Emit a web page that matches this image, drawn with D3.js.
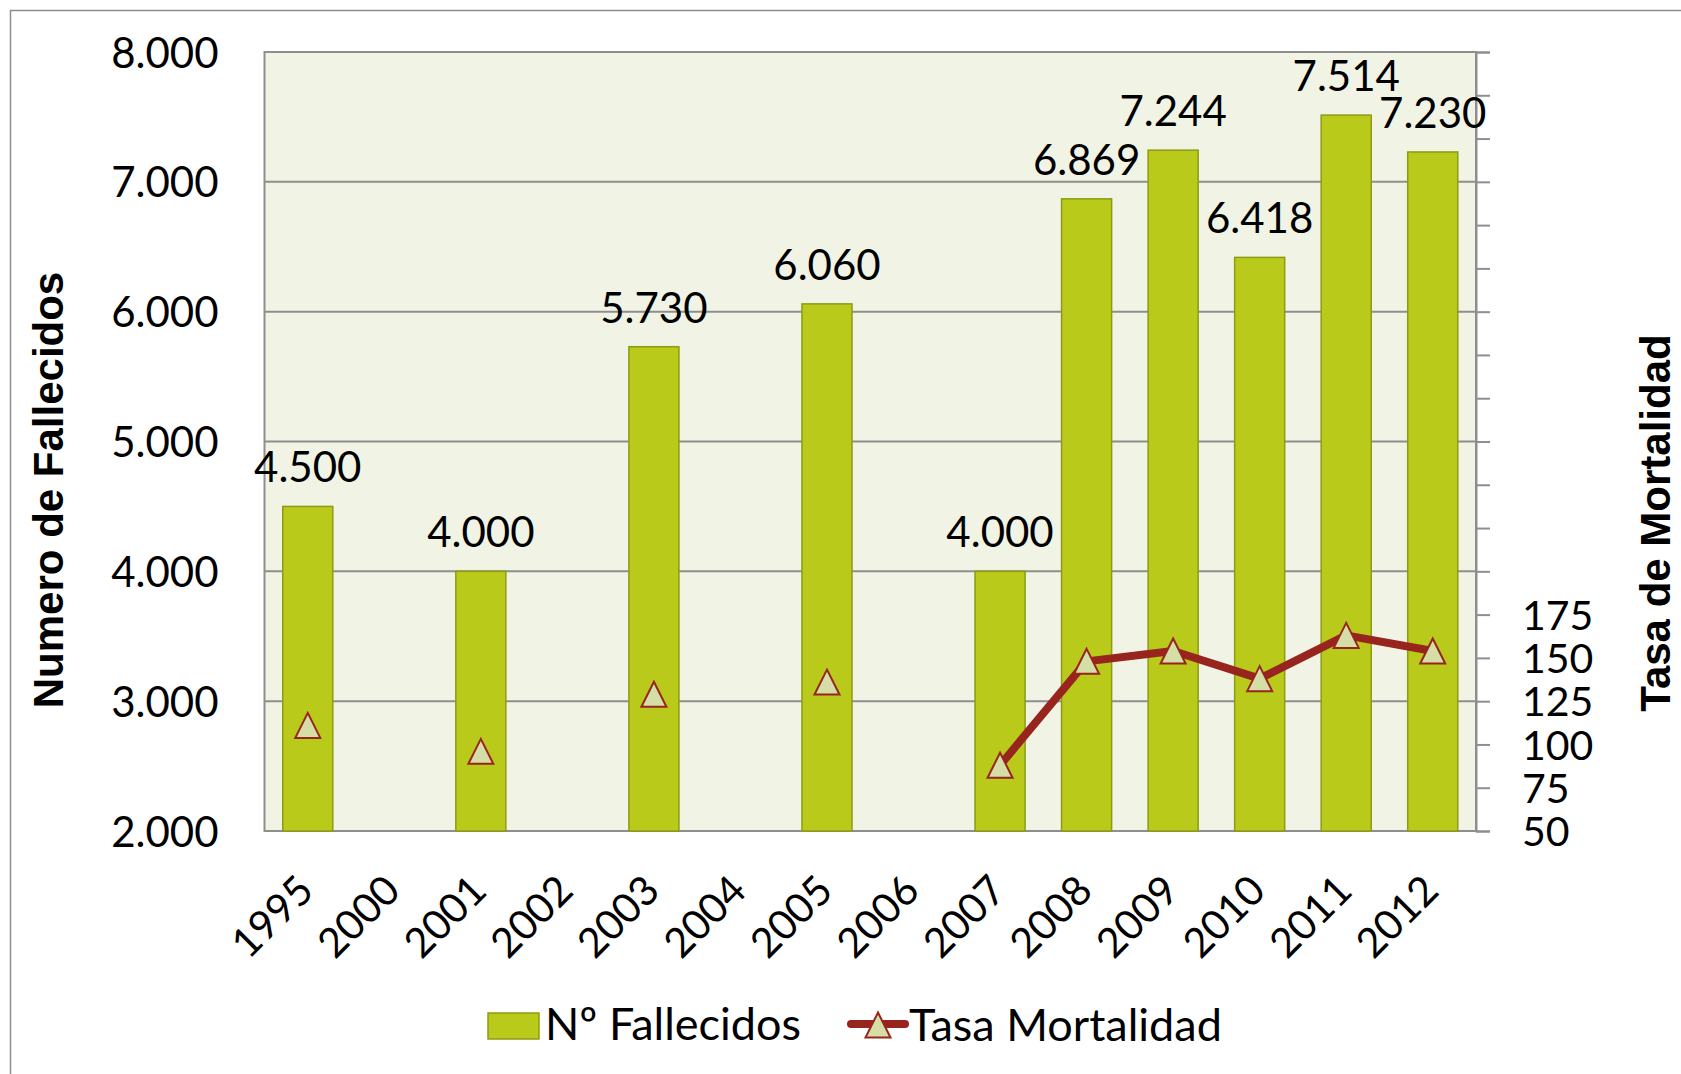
<!DOCTYPE html>
<html>
<head>
<meta charset="utf-8">
<script src="https://cdn.jsdelivr.net/npm/d3@7"></script>
<style>
  html, body { margin: 0; padding: 0; background: #ffffff; }
  svg { display: block; }
</style>
</head>
<body>
<svg id="chart" width="1681" height="1074"></svg>
<script>
// ---- data ----
const categories = ["1995","2000","2001","2002","2003","2004","2005","2006","2007","2008","2009","2010","2011","2012"];
const fallecidos = [4500, null, 4000, null, 5730, null, 6060, null, 4000, 6869, 7244, 6418, 7514, 7230];
const tasaMortalidad = [111, null, 96, null, 129, null, 136, null, 88, 148, 154, 138, 163, 154];
const leftTickValues = [2000, 3000, 4000, 5000, 6000, 7000, 8000];
const rightTickLabels = [50, 75, 100, 125, 150, 175];
const seriesNames = ["Nº Fallecidos", "Tasa Mortalidad"];
const leftTitle = "Numero de Fallecidos";
const rightTitle = "Tasa de Mortalidad";

// ---- layout ----
const W = 1681, H = 1074;
const plot = { left: 264.5, right: 1476, top: 52, bottom: 831 };
const colors = {
  bg: "#F1F3E5", grid: "#8E8E8E", bar: "#B9CA1B", barStroke: "#8C9C12",
  line: "#98251D", markerFill: "#D5DEA7", text: "#000000"
};
const numFont = "Lato, 'Open Sans', sans-serif";
const titleFont = "'Liberation Sans', Arial, sans-serif";

const svg = d3.select("#chart");
const loc = d3.formatLocale({ decimal: ",", thousands: ".", grouping: [3], currency: ["", ""] });
const fmt = loc.format(",d");

// outer frame
svg.append("rect").attr("x", 10.5).attr("y", 10.5).attr("width", W + 20).attr("height", H + 20)
  .attr("fill", "#fff").attr("stroke", "#8E8E8E").attr("stroke-width", 1.5);

const x = d3.scaleBand().domain(categories).range([plot.left, plot.right])
  .paddingInner(0.4217).paddingOuter(0.2108);
const yL = d3.scaleLinear().domain([2000, 8000]).range([plot.bottom, plot.top]);
const yR = d3.scaleLinear().domain([50, 500]).range([plot.bottom, plot.top]);

// plot background
svg.append("rect").attr("x", plot.left).attr("y", plot.top)
  .attr("width", plot.right - plot.left).attr("height", plot.bottom - plot.top)
  .attr("fill", colors.bg);

// gridlines
svg.append("g").selectAll("line").data(leftTickValues).join("line")
  .attr("x1", plot.left).attr("x2", plot.right)
  .attr("y1", d => yL(d)).attr("y2", d => yL(d))
  .attr("stroke", colors.grid).attr("stroke-width", 2);

// plot border
svg.append("rect").attr("x", plot.left).attr("y", plot.top)
  .attr("width", plot.right - plot.left).attr("height", plot.bottom - plot.top)
  .attr("fill", "none").attr("stroke", colors.grid).attr("stroke-width", 2);

// left axis labels
const leftAxis = d3.axisLeft(yL).tickValues(leftTickValues).tickFormat(fmt).tickSize(0).tickPadding(46);
const gL = svg.append("g").attr("transform", `translate(${plot.left},0)`).call(leftAxis);
gL.select(".domain").remove();
gL.selectAll("text").attr("font-family", numFont).attr("font-size", 42).attr("fill", colors.text).attr("dy", "0.36em");

// right axis
const rightAxis = d3.axisRight(yR).tickValues(d3.range(50, 501, 25))
  .tickFormat(d => rightTickLabels.includes(d) ? d : "").tickSize(14).tickPadding(32);
const gR = svg.append("g").attr("transform", `translate(${plot.right},0)`).call(rightAxis);
gR.select(".domain").attr("stroke", colors.grid).attr("stroke-width", 2);
gR.selectAll(".tick line").attr("stroke", colors.grid).attr("stroke-width", 2);
gR.selectAll("text").attr("font-family", numFont).attr("font-size", 41).attr("fill", colors.text).attr("dy", "0.36em");

// bottom axis labels
const gB = svg.append("g");
gB.selectAll("text").data(categories).join("text")
  .attr("transform", d => `translate(${x(d) + x.bandwidth() / 2 + 8},${plot.bottom + 62}) rotate(-45)`)
  .attr("text-anchor", "end").attr("font-family", numFont).attr("font-size", 41).attr("fill", colors.text)
  .text(d => d);

// bars
const barData = categories.map((c, i) => ({ c, v: fallecidos[i] })).filter(d => d.v != null);
svg.append("g").selectAll("rect").data(barData).join("rect")
  .attr("x", d => x(d.c)).attr("width", x.bandwidth())
  .attr("y", d => yL(d.v)).attr("height", d => yL(2000) - yL(d.v))
  .attr("fill", colors.bar).attr("stroke", colors.barStroke).attr("stroke-width", 1.5);

// bar labels
svg.append("g").selectAll("text").data(barData).join("text")
  .attr("x", d => x(d.c) + x.bandwidth() / 2).attr("y", d => yL(d.v) - 24)
  .attr("text-anchor", "middle").attr("font-family", numFont).attr("font-size", 42).attr("fill", colors.text)
  .text(d => fmt(d.v));

// line
const lineData = categories.map((c, i) => ({ c, v: tasaMortalidad[i] }));
const line = d3.line().defined(d => d.v != null)
  .x(d => x(d.c) + x.bandwidth() / 2).y(d => yR(d.v));
svg.append("path").datum(lineData).attr("d", line)
  .attr("fill", "none").attr("stroke", colors.line).attr("stroke-width", 8)
  .attr("stroke-linejoin", "round").attr("stroke-linecap", "round");

const tri = "M0,-12.5L12.5,12.5L-12.5,12.5Z";
svg.append("g").selectAll("path").data(lineData.filter(d => d.v != null)).join("path")
  .attr("transform", d => `translate(${x(d.c) + x.bandwidth() / 2},${yR(d.v)})`)
  .attr("d", tri).attr("fill", colors.markerFill).attr("stroke", colors.line).attr("stroke-width", 2);

// axis titles
svg.append("text").attr("transform", `translate(63,490) rotate(-90)`)
  .attr("text-anchor", "middle").attr("font-family", titleFont).attr("font-weight", "bold")
  .attr("font-size", 42).attr("fill", colors.text).text(leftTitle);
svg.append("text").attr("transform", `translate(1670,523) rotate(-90)`)
  .attr("text-anchor", "middle").attr("font-family", titleFont).attr("font-weight", "bold")
  .attr("font-size", 42).attr("fill", colors.text).text(rightTitle);

// legend
const lg = svg.append("g");
lg.append("rect").attr("x", 488).attr("y", 1013).attr("width", 51).attr("height", 26)
  .attr("fill", colors.bar).attr("stroke", colors.barStroke).attr("stroke-width", 1.5);
lg.append("text").attr("x", 545).attr("y", 1040).attr("font-family", numFont).attr("font-size", 45)
  .attr("fill", colors.text).text(seriesNames[0]);
lg.append("line").attr("x1", 851).attr("x2", 905).attr("y1", 1024).attr("y2", 1024)
  .attr("stroke", colors.line).attr("stroke-width", 8).attr("stroke-linecap", "round");
lg.append("path").attr("transform", "translate(878,1025)").attr("d", tri)
  .attr("fill", colors.markerFill).attr("stroke", colors.line).attr("stroke-width", 2);
lg.append("text").attr("x", 909).attr("y", 1041).attr("font-family", numFont).attr("font-size", 45)
  .attr("fill", colors.text).text(seriesNames[1]);
</script>
</body>
</html>
